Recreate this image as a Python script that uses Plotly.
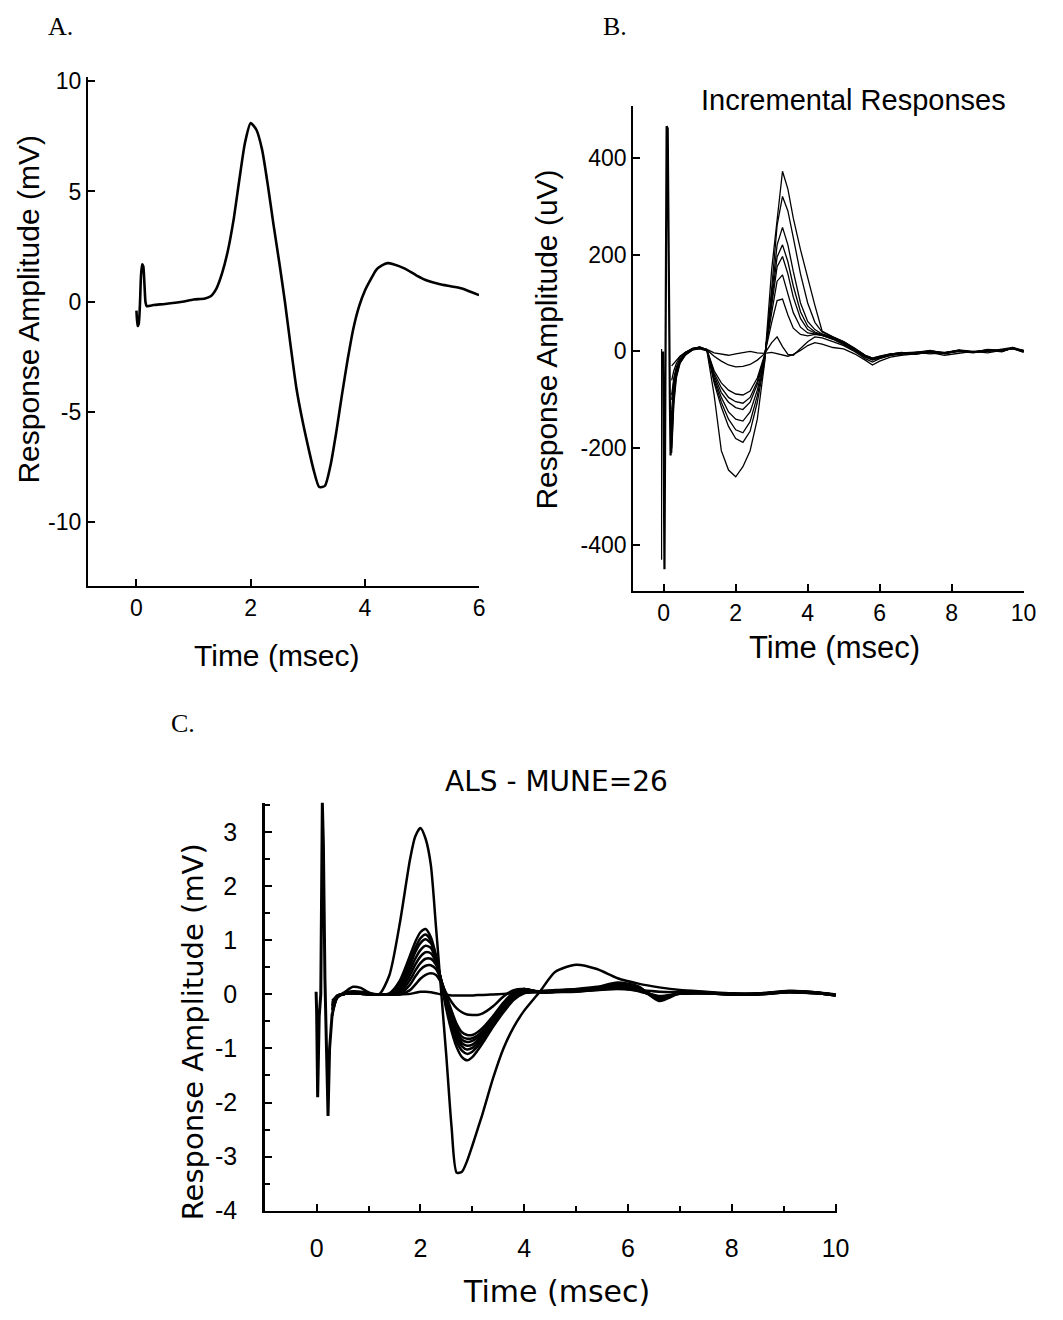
import plotly.graph_objects as go

W, H = 1063, 1320

# ---------------- Panel A data ----------------
tA = [0.0, 0.02, 0.04, 0.06, 0.08, 0.1, 0.12, 0.14, 0.16, 0.18, 0.2, 0.3, 0.5, 0.8, 1.0, 1.2, 1.3, 1.4,
      1.5, 1.6, 1.7, 1.8, 1.9, 2.0, 2.1, 2.2, 2.3, 2.4, 2.5, 2.6, 2.7, 2.8, 2.9, 3.0, 3.1, 3.2, 3.3,
      3.4, 3.5, 3.6, 3.7, 3.8, 3.9, 4.0, 4.1, 4.2, 4.3, 4.4, 4.5, 4.7, 4.9, 5.1, 5.3, 5.5, 5.7, 5.85, 6.0]
vA = [-0.4, -1.1, -1.0, -0.2, 1.2, 1.7, 1.6, 0.8, -0.05, -0.2, -0.2, -0.15, -0.1, 0.0, 0.1, 0.15, 0.25, 0.6,
      1.3, 2.3, 3.7, 5.5, 7.2, 8.1, 7.8, 6.9, 5.3, 3.5, 1.8, 0.0, -2.0, -3.9, -5.3, -6.5, -7.6, -8.4, -8.35,
      -7.4, -5.9, -4.2, -2.6, -1.2, -0.2, 0.5, 1.0, 1.45, 1.65, 1.75, 1.7, 1.5, 1.2, 0.95, 0.8, 0.7, 0.6, 0.45, 0.3]
A_xticks = [0, 2, 4, 6]
A_xlabels = ["0", "2", "4", "6"]
A_yticks = [-10, -5, 0, 5, 10]
A_ylabels = ["-10", "-5", "0", "5", "10"]

# ---------------- Panel B data ----------------
tB = [0.22, 0.28, 0.35, 0.45, 0.6, 0.8, 1.0, 1.2, 1.4, 1.6, 1.8, 2.0, 2.2, 2.4, 2.6, 2.8,
      3.0, 3.15, 3.3, 3.45, 3.6, 3.8, 4.0, 4.2, 4.4, 4.7, 5.0, 5.3, 5.6, 5.8, 6.0, 6.3, 6.6,
      7.0, 7.4, 7.8, 8.2, 8.6, 9.0, 9.4, 9.7, 10.0]
b0 = [-30, -25, -18, -10, -2, 5, 8, 4, -3, -6, -8, -5, -3, 0, -3, -4,
      -2, -5, -8, -10, -6, 2, 12, 18, 15, 8, 5, -5, -18, -28, -20, -12, -8,
      -5, -2, -8, -4, 0, -3, 2, 6, 0]
b1 = [-180, -90, -45, -22, -6, 4, 7, 3, -10, -20, -28, -32, -31, -27, -18, -5,
      18, 30, 10, -6, -8, 5, 20, 30, 28, 20, 12, 0, -15, -22, -15, -8, -6,
      -2, -5, -3, 2, -2, 0, 4, 8, 2]
b2 = [-120, -70, -40, -20, -5, 5, 9, 3, -40, -65, -80, -88, -90, -82, -55, -8,
      60, 105, 108, 75, 48, 35, 32, 35, 33, 25, 14, 2, -12, -18, -14, -8, -4,
      -6, -1, -4, 0, -3, 2, 0, 6, -2]
b3 = [-100, -60, -35, -18, -4, 6, 8, 4, -45, -75, -95, -104, -107, -95, -62, -10,
      80, 145, 158, 120, 80, 50, 38, 36, 33, 26, 16, 4, -10, -16, -12, -6, -3,
      -4, 1, -2, 2, -1, 3, 1, 7, 1]
b4 = [-210, -110, -55, -25, -8, 3, 6, 2, -50, -85, -105, -116, -120, -105, -68, -12,
      95, 175, 196, 160, 112, 68, 45, 38, 33, 27, 17, 3, -11, -17, -13, -7, -5,
      -3, 0, -5, 1, -2, 1, 3, 5, -1]
b5 = [-90, -55, -32, -16, -3, 5, 9, 3, -55, -95, -125, -140, -144, -125, -80, -15,
      105, 195, 220, 185, 135, 82, 52, 40, 35, 28, 18, 5, -9, -15, -11, -6, -2,
      -5, -2, -3, 3, 0, 2, -1, 8, 0]
b6 = [-150, -80, -42, -20, -6, 4, 7, 4, -60, -105, -140, -162, -168, -145, -92, -18,
      115, 220, 256, 220, 165, 100, 62, 45, 36, 29, 19, 6, -8, -14, -10, -5, -3,
      -2, 2, -4, 0, -2, 4, 2, 6, 2]
b7 = [-60, -40, -25, -12, -2, 6, 8, 2, -65, -115, -155, -180, -188, -165, -105, -22,
      130, 260, 320, 290, 235, 160, 100, 60, 40, 30, 20, 6, -9, -16, -12, -6, -4,
      -3, 1, -3, 2, -1, 2, 0, 7, 1]
b8 = [-200, -100, -50, -24, -7, 3, 5, 1, -90, -205, -245, -259, -238, -205, -140, -25,
      170, 275, 372, 335, 275, 210, 150, 95, 42, 30, 20, 7, -8, -14, -10, -5, -3,
      -2, 0, -4, 1, -2, 3, 1, 6, 0]
B_traces = [b0, b1, b2, b3, b4, b5, b6, b7, b8]
# stimulus artefact
artB_t1 = [-0.06, -0.06]
artB_v1 = [5, -430]
artB_t = [-0.02, 0.0, 0.02, 0.05, 0.08, 0.11, 0.14, 0.17, 0.19, 0.22]
artB_v = [0, -200, -450, 0, 465, 460, 100, -100, -215, -120]
B_xticks = [0, 2, 4, 6, 8, 10]
B_xlabels = ["0", "2", "4", "6", "8", "10"]
B_yticks = [-400, -200, 0, 200, 400]
B_ylabels = ["-400", "-200", "0", "200", "400"]

# ---------------- Panel C data ----------------
tC = [0.3, 0.4, 0.55, 0.7, 0.85, 1.0, 1.2, 1.4, 1.6, 1.8, 1.9, 2.0, 2.1, 2.2, 2.3, 2.4, 2.5, 2.6, 2.7, 2.8,
      2.9, 3.0, 3.1, 3.2, 3.4, 3.6, 3.8, 4.0, 4.3, 4.6, 5.0, 5.4, 5.8, 6.2, 6.6, 7.0, 7.5, 8.0, 8.5, 9.1,
      9.6, 10.0]
c_big = [-0.4, -0.05, 0.05, 0.14, 0.12, 0.04, 0.0, 0.35, 1.3, 2.5, 2.92, 3.08, 2.88, 2.4, 1.25, 0.05,
         -1.15, -2.45, -3.3, -3.28, -3.08, -2.8, -2.5, -2.2, -1.55, -1.0, -0.6, -0.3, 0.05, 0.42,
         0.55, 0.47, 0.3, 0.2, 0.13, 0.08, 0.05, 0.02, 0.02, 0.06, 0.04, 0.0]
c_m1 = [-0.35, -0.06, 0.03, 0.06, 0.05, 0.02, 0.0, 0.02, 0.25, 0.72, 0.97, 1.15, 1.21, 1.06, 0.72, 0.22,
        -0.28, -0.68, -0.98, -1.16, -1.22, -1.16, -1.04, -0.9, -0.6, -0.33, -0.1, 0.02, 0.05, 0.06,
        0.08, 0.1, 0.16, 0.12, -0.06, 0.02, 0.03, 0.0, 0.01, 0.05, 0.03, -0.02]
c_m2 = [-0.3, -0.05, 0.02, 0.05, 0.04, 0.01, 0.0, 0.01, 0.2, 0.62, 0.86, 1.04, 1.11, 1.0, 0.7, 0.24,
        -0.22, -0.6, -0.88, -1.04, -1.1, -1.06, -0.96, -0.84, -0.56, -0.3, -0.08, 0.04, 0.06, 0.07,
        0.09, 0.12, 0.2, 0.14, -0.1, 0.03, 0.02, 0.01, 0.0, 0.06, 0.04, -0.01]
c_m3 = [-0.28, -0.04, 0.02, 0.04, 0.03, 0.01, 0.0, 0.0, 0.15, 0.54, 0.78, 0.95, 1.02, 0.95, 0.68, 0.25,
        -0.18, -0.54, -0.8, -0.96, -1.02, -0.99, -0.9, -0.78, -0.52, -0.26, -0.04, 0.06, 0.06, 0.08,
        0.1, 0.14, 0.22, 0.15, -0.12, 0.02, 0.03, 0.01, 0.01, 0.07, 0.03, -0.02]
c_m4 = [-0.25, -0.04, 0.01, 0.03, 0.03, 0.01, 0.0, 0.0, 0.1, 0.45, 0.66, 0.82, 0.9, 0.86, 0.64, 0.26,
        -0.14, -0.48, -0.74, -0.9, -0.95, -0.93, -0.85, -0.74, -0.48, -0.22, -0.02, 0.08, 0.05, 0.07,
        0.09, 0.13, 0.2, 0.12, -0.1, 0.03, 0.02, 0.0, 0.01, 0.06, 0.04, -0.01]
c_m5 = [-0.22, -0.03, 0.01, 0.03, 0.02, 0.0, 0.0, 0.0, 0.06, 0.36, 0.55, 0.7, 0.78, 0.76, 0.6, 0.27,
        -0.1, -0.42, -0.68, -0.84, -0.88, -0.86, -0.8, -0.7, -0.45, -0.2, 0.0, 0.09, 0.05, 0.06,
        0.08, 0.12, 0.18, 0.1, -0.08, 0.02, 0.03, 0.01, 0.0, 0.05, 0.03, -0.02]
c_m6 = [-0.2, -0.03, 0.01, 0.02, 0.02, 0.0, 0.0, 0.0, 0.03, 0.27, 0.44, 0.58, 0.66, 0.66, 0.55, 0.27,
        -0.06, -0.36, -0.62, -0.78, -0.82, -0.81, -0.76, -0.67, -0.43, -0.18, 0.02, 0.1, 0.04, 0.05,
        0.07, 0.1, 0.16, 0.08, -0.06, 0.02, 0.02, 0.0, 0.01, 0.05, 0.03, -0.01]
c_m7 = [-0.18, -0.02, 0.01, 0.02, 0.01, 0.0, 0.0, 0.0, 0.01, 0.18, 0.33, 0.46, 0.53, 0.54, 0.47, 0.26,
        -0.03, -0.3, -0.55, -0.7, -0.75, -0.75, -0.7, -0.62, -0.4, -0.15, 0.04, 0.1, 0.04, 0.05,
        0.06, 0.09, 0.14, 0.07, -0.04, 0.01, 0.02, 0.0, 0.0, 0.04, 0.02, -0.01]
c_m8 = [-0.15, -0.02, 0.01, 0.02, 0.01, 0.0, 0.0, 0.0, 0.0, 0.08, 0.18, 0.29, 0.36, 0.39, 0.36, 0.22,
        0.02, -0.14, -0.26, -0.33, -0.37, -0.38, -0.38, -0.35, -0.22, -0.04, 0.08, 0.1, 0.03, 0.04,
        0.05, 0.08, 0.12, 0.06, -0.03, 0.01, 0.02, 0.0, 0.0, 0.04, 0.02, -0.01]
c_flat = [-0.12, -0.02, 0.01, 0.02, 0.01, 0.0, 0.0, 0.0, 0.0, 0.01, 0.03, 0.05, 0.05, 0.04, 0.02, 0.0,
          -0.01, -0.02, -0.02, -0.02, -0.02, -0.02, -0.01, -0.01, 0.0, 0.01, 0.02, 0.03, 0.04, 0.05,
          0.06, 0.08, 0.1, 0.08, 0.05, 0.04, 0.03, 0.01, 0.01, 0.04, 0.02, 0.0]
C_traces = [c_flat, c_m8, c_m7, c_m6, c_m5, c_m4, c_m3, c_m2, c_m1, c_big]
artC_t = [-0.01, 0.0, 0.02, 0.05, 0.08, 0.11, 0.13, 0.16, 0.19, 0.22, 0.25, 0.3]
artC_v = [0.05, -0.3, -1.9, -0.4, 0.0, 3.55, 2.8, 0.3, -1.0, -2.25, -1.0, -0.35]
C_xticks = [0, 2, 4, 6, 8, 10]
C_xlabels = ["0", "2", "4", "6", "8", "10"]
C_yticks = [-4, -3, -2, -1, 0, 1, 2, 3]
C_ylabels = ["-4", "-3", "-2", "-1", "0", "1", "2", "3"]

# ---------------- figure ----------------
def px_x(p):
    return p / W

def px_y(p):
    return 1 - p / H

fig = go.Figure()

# Panel A
fig.add_trace(go.Scatter(x=tA, y=vA, mode="lines", xaxis="x", yaxis="y",
                         line=dict(color="black", width=2.6, shape="spline", smoothing=0.6),
                         showlegend=False, hoverinfo="skip"))

# Panel B
fig.add_trace(go.Scatter(x=artB_t1, y=artB_v1, mode="lines", xaxis="x2", yaxis="y2",
                         line=dict(color="black", width=1.2), showlegend=False, hoverinfo="skip"))
fig.add_trace(go.Scatter(x=artB_t, y=artB_v, mode="lines", xaxis="x2", yaxis="y2",
                         line=dict(color="black", width=2.2), showlegend=False, hoverinfo="skip"))
for tr in B_traces:
    fig.add_trace(go.Scatter(x=tB, y=tr, mode="lines", xaxis="x2", yaxis="y2",
                             line=dict(color="black", width=1.3),
                             showlegend=False, hoverinfo="skip"))

# Panel C
fig.add_trace(go.Scatter(x=artC_t, y=artC_v, mode="lines", xaxis="x3", yaxis="y3",
                         line=dict(color="black", width=3), showlegend=False, hoverinfo="skip"))
for tr in C_traces:
    fig.add_trace(go.Scatter(x=tC, y=tr, mode="lines", xaxis="x3", yaxis="y3",
                             line=dict(color="black", width=2.5, shape="spline", smoothing=0.7),
                             showlegend=False, hoverinfo="skip"))

SANS = "Liberation Sans, Arial, sans-serif"

def axis_style(size, lw=2, standoff=None):
    d = dict(showline=True, linecolor="black", linewidth=lw, ticks="inside", ticklen=7,
             tickwidth=2, tickcolor="black", showgrid=False, zeroline=False,
             tickfont=dict(family=SANS, size=size, color="black"), fixedrange=True,
             tickmode="array")
    if standoff is not None:
        d["ticklabelstandoff"] = standoff
    return d

minor_x = dict(ticks="inside", tickmode="linear", tick0=0, dtick=1, ticklen=5, tickwidth=2, tickcolor="black")
minor_y = dict(ticks="inside", tickmode="linear", tick0=0, dtick=0.5, ticklen=5, tickwidth=2, tickcolor="black")

fig.update_layout(
    width=W, height=H, margin=dict(l=0, r=0, t=0, b=0),
    paper_bgcolor="white", plot_bgcolor="white", showlegend=False,
    xaxis=dict(domain=[px_x(89), px_x(485)], range=[-0.85, 6.0], tickvals=A_xticks, ticktext=A_xlabels,
               anchor="y", **axis_style(23)),
    yaxis=dict(domain=[px_y(588), px_y(70)], range=[-12.9, 10.2], tickvals=A_yticks, ticktext=A_ylabels,
               anchor="x", **axis_style(23)),
    xaxis2=dict(domain=[px_x(641), px_x(1037)], range=[-0.85, 10.02], tickvals=B_xticks, ticktext=B_xlabels,
                anchor="y2", **axis_style(23)),
    yaxis2=dict(domain=[px_y(593), px_y(100)], range=[-495, 506], tickvals=B_yticks, ticktext=B_ylabels,
                anchor="x2", **axis_style(23)),
    xaxis3=dict(domain=[px_x(268), px_x(847)], range=[-1.0, 10.02], tickvals=C_xticks, ticktext=C_xlabels,
                minor=minor_x, anchor="y3", **axis_style(25, lw=2.5, standoff=14)),
    yaxis3=dict(domain=[px_y(1223), px_y(808)], range=[-4.0, 3.55], tickvals=C_yticks, ticktext=C_ylabels,
                minor=minor_y, anchor="x3", **axis_style(25, lw=2.5, standoff=20)),
)

title_font = dict(family=SANS, size=30, color="black")
wide_font = dict(family="DejaVu Sans, sans-serif", size=29, color="black")
label_font = dict(family="Liberation Serif, Times New Roman, serif", size=26, color="black")

annots = [
    ("A.", 61, 19, 0, label_font),
    ("B.", 623, 19, 0, label_font),
    ("C.", 185, 728, 0, label_font),
    ("Response Amplitude (mV)", 29, 306, -90, title_font),
    ("Time (msec)", 280, 658, 0, title_font),
    ("Response Amplitude (uV)", 553, 337, -90, title_font),
    ("Time (msec)", 845, 650, 0, dict(family=SANS, size=31, color="black")),
    ("Incremental Responses", 864, 94, 0, dict(family=SANS, size=29, color="black")),
    ("ALS - MUNE=26", 563, 787, 0, dict(family="DejaVu Sans, sans-serif", size=28, color="black")),
    ("Response Amplitude (mV)", 195, 1041, -90, wide_font),
    ("Time (msec)", 563, 1305, 0, dict(family="DejaVu Sans, sans-serif", size=30, color="black")),
]
for text, x, y, ang, f in annots:
    fig.add_annotation(text=text, x=px_x(x), y=px_y(y), xref="paper", yref="paper",
                       xanchor="center", yanchor="middle", showarrow=False, textangle=ang, font=f)

fig.write_html("out.html", include_plotlyjs=True, config={"displayModeBar": False, "staticPlot": True},
               post_script="document.body.style.margin='0';document.body.style.overflow='hidden';")
